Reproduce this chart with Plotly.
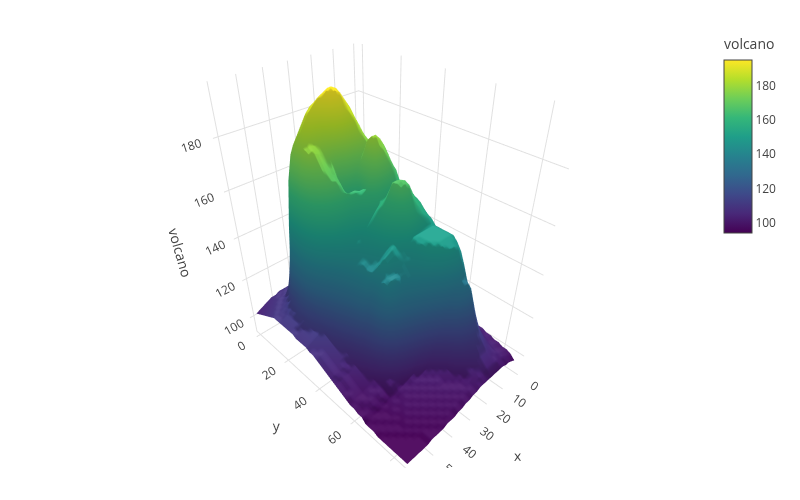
import numpy as np
import plotly.graph_objects as go

# volcano heights, every second row and column of the grid
x_vals = list(range(0, 61, 2))
y_vals = list(range(0, 87, 2))
volcano = [
    [100, 101, 101, 101, 100, 101, 102, 102, 103, 103, 101, 102, 104, 105, 107, 108, 110, 110, 110, 110, 108, 108, 107, 108, 108, 107, 107, 106, 105, 104, 103],
    [102, 103, 103, 103, 102, 103, 104, 104, 105, 105, 104, 106, 108, 111, 114, 114, 116, 119, 121, 120, 116, 112, 110, 110, 109, 109, 108, 107, 106, 105, 104],
    [104, 105, 105, 105, 104, 104, 105, 105, 106, 107, 108, 110, 115, 118, 120, 123, 126, 128, 130, 128, 122, 116, 112, 110, 110, 109, 109, 108, 107, 106, 105],
    [105, 106, 106, 106, 105, 105, 106, 107, 108, 109, 112, 117, 121, 126, 129, 134, 136, 139, 140, 137, 129, 122, 116, 112, 110, 110, 110, 109, 108, 107, 106],
    [107, 107, 107, 107, 106, 106, 107, 108, 110, 113, 120, 128, 136, 143, 149, 153, 154, 153, 152, 150, 146, 140, 132, 124, 116, 111, 110, 110, 109, 108, 107],
    [108, 108, 108, 109, 110, 112, 115, 120, 127, 134, 142, 150, 158, 165, 170, 172, 171, 170, 168, 166, 163, 158, 150, 138, 122, 113, 111, 110, 110, 109, 108],
    [109, 110, 111, 112, 114, 117, 122, 129, 137, 145, 153, 161, 168, 175, 180, 183, 182, 181, 179, 176, 173, 170, 163, 150, 132, 116, 112, 111, 110, 110, 109],
    [111, 112, 113, 115, 118, 122, 128, 136, 144, 152, 160, 168, 175, 182, 187, 189, 188, 187, 186, 183, 180, 177, 174, 165, 148, 126, 114, 112, 111, 110, 110],
    [112, 114, 115, 117, 121, 126, 133, 142, 150, 158, 166, 174, 181, 187, 191, 192, 191, 190, 189, 187, 184, 181, 178, 170, 155, 132, 117, 113, 111, 110, 110],
    [113, 115, 117, 119, 123, 129, 138, 147, 155, 163, 171, 179, 185, 190, 193, 194, 193, 192, 190, 188, 185, 182, 178, 170, 157, 135, 118, 114, 112, 111, 110],
    [114, 116, 119, 122, 127, 133, 142, 151, 159, 167, 175, 182, 187, 191, 194, 195, 194, 191, 187, 185, 183, 181, 178, 170, 157, 138, 120, 114, 112, 111, 110],
    [114, 117, 120, 124, 129, 136, 145, 154, 162, 170, 177, 183, 187, 190, 193, 194, 192, 187, 182, 180, 179, 179, 178, 172, 158, 140, 122, 115, 112, 111, 110],
    [115, 118, 121, 126, 132, 139, 148, 157, 165, 171, 177, 181, 184, 186, 187, 188, 185, 179, 176, 176, 177, 178, 177, 170, 156, 140, 122, 115, 112, 111, 110],
    [115, 118, 122, 127, 134, 142, 151, 160, 167, 172, 176, 178, 179, 179, 178, 176, 170, 166, 171, 172, 174, 175, 173, 166, 153, 138, 122, 114, 112, 110, 110],
    [116, 119, 123, 128, 136, 145, 154, 163, 169, 173, 175, 175, 173, 170, 165, 162, 160, 160, 168, 169, 171, 172, 168, 160, 148, 134, 120, 114, 111, 110, 109],
    [116, 119, 123, 129, 138, 147, 157, 165, 170, 173, 176, 178, 178, 172, 160, 157, 157, 160, 166, 168, 168, 166, 161, 153, 143, 130, 118, 113, 111, 110, 109],
    [116, 119, 124, 130, 139, 149, 159, 166, 171, 175, 178, 180, 180, 170, 162, 162, 163, 163, 163, 163, 161, 158, 152, 145, 137, 126, 116, 112, 111, 110, 109],
    [116, 119, 124, 130, 140, 150, 159, 165, 168, 171, 174, 176, 175, 168, 163, 161, 159, 157, 155, 154, 152, 150, 146, 140, 132, 122, 114, 112, 111, 110, 109],
    [115, 118, 123, 130, 140, 149, 157, 161, 163, 164, 165, 165, 165, 163, 160, 158, 155, 153, 151, 150, 148, 146, 142, 136, 128, 119, 112, 111, 110, 109, 108],
    [115, 118, 123, 130, 139, 148, 155, 158, 159, 159, 159, 158, 158, 158, 156, 154, 152, 150, 148, 147, 145, 143, 139, 133, 125, 116, 111, 110, 109, 108, 108],
    [114, 117, 122, 129, 138, 147, 154, 157, 158, 160, 161, 162, 162, 160, 158, 155, 152, 149, 147, 145, 143, 141, 137, 130, 122, 114, 110, 109, 108, 108, 107],
    [114, 117, 121, 128, 137, 147, 154, 158, 160, 162, 165, 167, 167, 163, 159, 155, 151, 148, 146, 144, 142, 140, 135, 127, 119, 112, 109, 108, 107, 107, 106],
    [113, 116, 121, 127, 136, 147, 154, 158, 160, 163, 167, 168, 167, 163, 158, 154, 150, 147, 145, 143, 142, 139, 133, 124, 116, 110, 108, 107, 106, 106, 105],
    [112, 115, 120, 126, 135, 146, 153, 157, 159, 162, 166, 167, 166, 161, 156, 152, 149, 146, 144, 142, 141, 138, 131, 121, 113, 108, 107, 106, 105, 105, 104],
    [112, 115, 119, 125, 134, 145, 152, 155, 157, 159, 161, 162, 161, 157, 153, 150, 147, 145, 143, 142, 141, 137, 128, 118, 111, 107, 105, 105, 104, 104, 103],
    [111, 114, 118, 124, 133, 144, 151, 153, 154, 155, 156, 157, 156, 153, 150, 148, 148, 147, 146, 144, 139, 131, 122, 114, 109, 105, 104, 103, 103, 102, 102],
    [110, 113, 117, 123, 132, 143, 149, 150, 150, 150, 150, 150, 150, 149, 147, 146, 146, 145, 144, 142, 138, 130, 120, 112, 107, 104, 103, 102, 102, 101, 101],
    [110, 113, 117, 123, 131, 142, 149, 150, 150, 150, 150, 150, 149, 147, 145, 144, 143, 141, 141, 141, 140, 130, 118, 110, 105, 103, 102, 101, 101, 100, 100],
    [109, 112, 116, 122, 130, 141, 149, 150, 150, 150, 150, 150, 149, 146, 144, 142, 141, 140, 141, 141, 139, 127, 115, 107, 104, 102, 101, 100, 100, 100, 99],
    [108, 111, 115, 121, 129, 141, 149, 150, 150, 150, 150, 150, 148, 145, 142, 140, 139, 137, 136, 135, 131, 120, 110, 105, 102, 101, 100, 99, 99, 99, 98],
    [107, 110, 114, 120, 129, 141, 149, 150, 150, 150, 150, 149, 147, 143, 140, 138, 135, 132, 129, 126, 120, 112, 106, 103, 101, 100, 100, 99, 99, 98, 98],
    [106, 109, 113, 119, 128, 139, 147, 149, 149, 149, 149, 147, 144, 140, 136, 132, 128, 124, 120, 115, 110, 106, 103, 102, 100, 100, 99, 99, 98, 97, 97],
    [105, 108, 112, 118, 126, 136, 144, 147, 148, 148, 146, 143, 138, 133, 128, 123, 118, 114, 110, 107, 104, 103, 102, 101, 99, 99, 98, 98, 97, 97, 97],
    [103, 105, 108, 114, 124, 133, 139, 142, 143, 142, 139, 135, 129, 123, 117, 112, 108, 105, 103, 102, 101, 100, 100, 99, 98, 97, 97, 96, 96, 96, 95],
    [103, 104, 107, 112, 120, 128, 133, 135, 136, 134, 130, 125, 119, 113, 108, 105, 103, 102, 101, 101, 100, 100, 99, 98, 98, 97, 96, 96, 96, 95, 95],
    [103, 104, 106, 110, 117, 125, 131, 134, 133, 130, 125, 118, 112, 108, 105, 103, 102, 101, 101, 100, 100, 99, 99, 98, 97, 97, 96, 96, 95, 95, 95],
    [102, 103, 105, 108, 113, 119, 124, 126, 125, 122, 118, 113, 108, 105, 103, 102, 101, 101, 100, 100, 99, 99, 98, 98, 97, 96, 96, 95, 95, 95, 94],
    [102, 103, 104, 106, 110, 114, 118, 119, 118, 116, 113, 109, 106, 103, 102, 101, 101, 100, 100, 99, 99, 98, 98, 97, 97, 96, 95, 95, 95, 94, 94],
    [101, 102, 103, 105, 108, 111, 113, 114, 113, 111, 109, 106, 104, 102, 101, 100, 100, 100, 99, 99, 98, 98, 97, 97, 96, 96, 95, 95, 94, 94, 94],
    [101, 102, 103, 104, 106, 108, 110, 110, 110, 108, 106, 104, 102, 101, 100, 100, 100, 99, 99, 98, 98, 97, 97, 96, 96, 95, 95, 94, 94, 94, 94],
    [100, 101, 102, 103, 105, 106, 107, 107, 107, 106, 104, 103, 101, 100, 100, 100, 99, 99, 98, 98, 97, 97, 96, 96, 95, 95, 94, 94, 94, 94, 94],
    [100, 101, 102, 103, 104, 104, 105, 105, 105, 104, 103, 102, 101, 100, 100, 99, 99, 98, 98, 97, 97, 96, 96, 95, 95, 94, 94, 94, 94, 94, 94],
    [99, 100, 101, 102, 102, 103, 103, 103, 103, 102, 102, 101, 100, 100, 99, 99, 98, 98, 97, 97, 96, 96, 95, 95, 95, 94, 94, 94, 94, 94, 94],
    [97, 98, 99, 99, 100, 100, 100, 100, 100, 100, 100, 100, 99, 99, 98, 98, 97, 97, 96, 96, 96, 95, 95, 95, 95, 94, 94, 94, 94, 94, 94],
]

z = np.array(volcano)

fig = go.Figure(
    go.Surface(
        x=x_vals,
        y=y_vals,
        z=z,
        colorscale="Viridis",
        colorbar=dict(
            title=dict(text="volcano", font=dict(size=14)),
            thickness=28,
            len=197,
            lenmode="pixels",
            x=1.02,
            xanchor="left",
            xpad=0,
            y=1,
            yanchor="top",
            ypad=0,
            outlinecolor="#444444",
            outlinewidth=1,
            tickfont=dict(size=12),
            dtick=20,
        ),
    )
)

axis_style = dict(gridcolor="#e0e0e0", zeroline=False, showbackground=False, showline=False, ticks="")

fig.update_layout(
    width=800,
    height=500,
    font=dict(family="Open Sans", color="#444444", size=12),
    paper_bgcolor="white",
    margin=dict(l=80, r=96, t=28, b=40),
    scene=dict(
        domain=dict(x=[0, 0.94], y=[0, 1]),
        xaxis=dict(title="x", **axis_style),
        yaxis=dict(title="y", **axis_style),
        zaxis=dict(title="volcano", **axis_style),
        camera=dict(
            eye=dict(x=1.2, y=1.235, z=1.25),
            center=dict(x=0, y=0, z=-0.03),
        ),
    ),
)

fig.write_html("out.html")
